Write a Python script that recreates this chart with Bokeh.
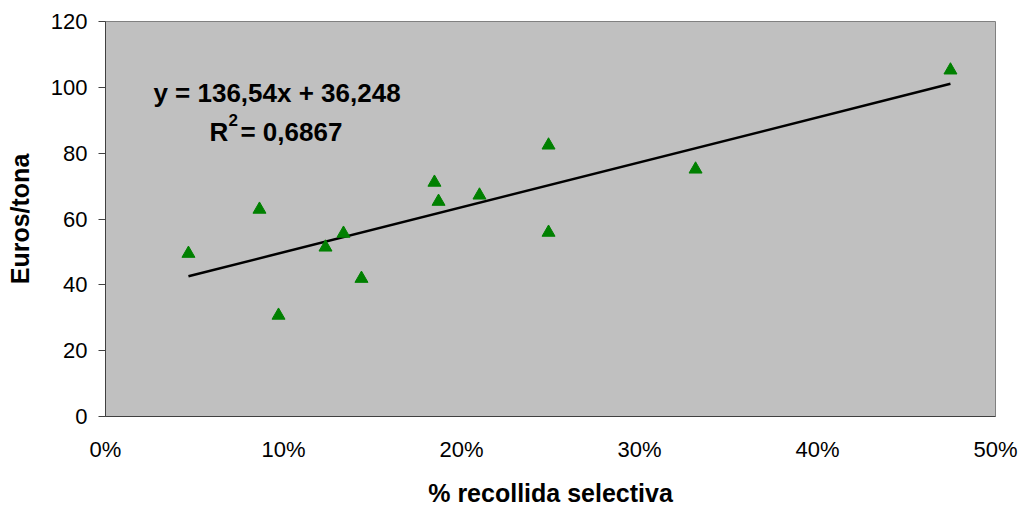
from bokeh.plotting import figure
from bokeh.models import Range1d, FixedTicker, NumeralTickFormatter, Label
from bokeh.embed import file_html
from bokeh.resources import INLINE

# Data
recollida = [0.0466, 0.0865, 0.0972, 0.1236, 0.1337, 0.1438, 0.1848, 0.1871,
             0.2101, 0.2489, 0.2489, 0.3315, 0.4747]
euros = [49.5, 62.9, 30.7, 51.4, 55.6, 41.9, 71.1, 65.3, 67.2, 82.4, 55.9, 75.1, 105.2]
slope = 136.54
intercept = 36.248
x_ticks = [0, 0.1, 0.2, 0.3, 0.4, 0.5]
y_ticks = [0, 20, 40, 60, 80, 100, 120]

FONT = "Liberation Sans"

p = figure(width=1021, height=510, output_backend="svg", toolbar_location=None,
           x_range=Range1d(0, 0.5), y_range=Range1d(0, 120),
           min_border_left=105, min_border_right=26, min_border_top=21, min_border_bottom=94)

p.background_fill_color = "#C0C0C0"
p.border_fill_color = "white"
p.outline_line_color = "#808080"
p.outline_line_width = 1
p.xgrid.visible = False
p.ygrid.visible = False

# Trend line
xmin, xmax = min(recollida), max(recollida)
p.line([xmin, xmax], [slope * xmin + intercept, slope * xmax + intercept],
       line_color="black", line_width=2.5)

# Points
p.scatter(recollida, euros, marker="triangle", size=13,
          fill_color="#008000", line_color="#008000")

# Axes
p.xaxis.ticker = FixedTicker(ticks=x_ticks)
p.xaxis.formatter = NumeralTickFormatter(format="0%")
p.yaxis.ticker = FixedTicker(ticks=y_ticks)
for ax in (p.xaxis[0], p.yaxis[0]):
    ax.axis_line_color = "#404040"
    ax.major_tick_line_color = "#404040"
    ax.minor_tick_line_color = None
    ax.major_tick_in = 0
    ax.major_label_text_font = FONT
    ax.major_label_text_font_size = "22px"
    ax.major_label_text_color = "black"
    ax.axis_label_text_font = FONT
    ax.axis_label_text_font_size = "25px"
    ax.axis_label_text_font_style = "bold"
    ax.axis_label_text_color = "black"

p.xaxis.major_tick_out = 0
p.xaxis.major_label_standoff = 20
p.xaxis.axis_label = "% recollida selectiva"
p.xaxis.axis_label_standoff = 14

p.yaxis.major_tick_out = 7
p.yaxis.major_label_standoff = 11
p.yaxis.axis_label = "Euros/tona"
p.yaxis.axis_label_standoff = 14

# Equation labels
common = dict(text_font=FONT, text_font_style="bold", text_color="black",
              text_baseline="alphabetic")
p.add_layout(Label(x=0.09635, y=98.2, text="y = 136,54x + 36,248",
                   text_font_size="26px", text_align="center", **common))
p.add_layout(Label(x=0.0584, y=86.4, text="R",
                   text_font_size="26px", text_align="left", **common))
p.add_layout(Label(x=0.0691, y=90.2, text="2",
                   text_font_size="17px", text_align="left", **common))
p.add_layout(Label(x=0.0758, y=86.4, text="= 0,6867",
                   text_font_size="26px", text_align="left", **common))

open("out.html", "w").write(file_html(p, INLINE))
